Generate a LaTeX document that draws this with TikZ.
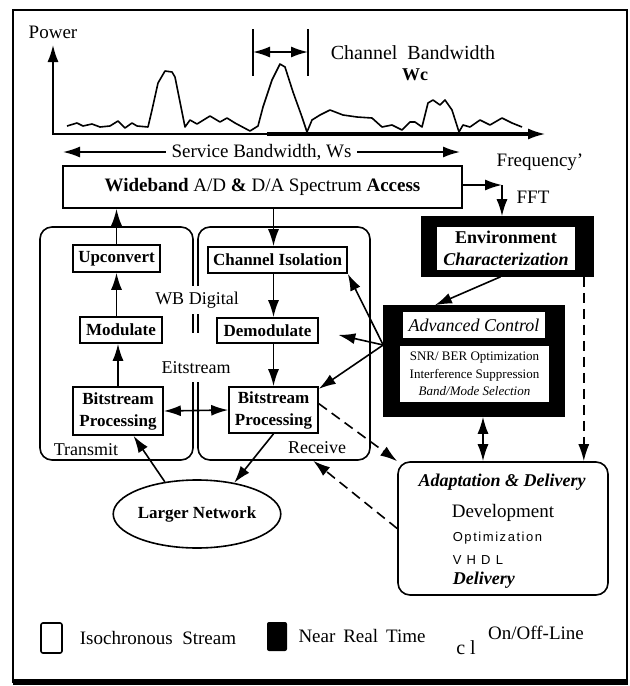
\documentclass[tikz,border=0pt]{standalone}
\usepackage{fontspec}
\setmainfont{Liberation Serif}
\newfontfamily\spacedsans[LetterSpace=12]{Liberation Sans}
\usepackage{tikz}
\usetikzlibrary{arrows.meta}
\usetikzlibrary{positioning}
\usetikzlibrary{shapes.geometric}
\newcommand{\fsz}[2]{\fontsize{#1}{#2}\selectfont}

\begin{document}
\begin{tikzpicture}[
	x=0.5pt, y=-0.5pt,
	> = {Latex[length=8.5pt,width=5.5pt]},
	line width=0.8pt,
	every node/.style = {font=\fsz{9}{11}, inner sep=0pt},
	block/.style = {draw, line width=0.8pt, font=\fsz{8.5}{11}\bfseries, align=center},
	group/.style = {draw, line width=0.8pt, rounded corners=6pt},
	darkbox/.style = {fill=black, draw=black},
	lightbox/.style = {fill=white, align=center},
	dashedarrow/.style = {->, dash pattern=on 5pt off 3pt}
	]
	\useasboundingbox (0,0) rectangle (629,686);
	\draw[line width=1.2pt] (13,10) rectangle (627,682);
	\draw[line width=3pt] (13,682) -- (628,682);

	\draw[<->] (53,45) node[above=3pt, font=\fsz{9.5}{11}] (power) {Power} |- (545,134);
	\draw[line width=2pt] (267,134) -- (528,134);
	\draw[line width=0.8pt, line join=round] plot coordinates {(67,126) (77,123) (83,126) (92,124) (100,127) (110,126) (118,121) (125,128) (132,123) (137,126) (148,127) (152,110) (158,83) (165,71) (172,72) (175,77) (185,127) (190,120) (197,124) (210,116) (220,122) (227,118) (235,123) (250,131) (258,126) (263,107) (272,80) (280,64) (285,67) (293,92) (302,117) (307,132) (312,120) (320,115) (330,110) (343,115) (357,117) (372,118) (382,127) (392,125) (402,130) (410,122) (415,122) (422,127) (428,103) (433,100) (440,105) (445,100) (452,110) (459,132) (463,125) (470,127) (480,120) (490,125) (502,118) (512,123) (522,127)};

	\coordinate (@wl) at (253,52);
	\coordinate (@wr) at (308,52);
	\draw (253,29) -- (253,76);
	\draw (308,29) -- (308,76);
	\draw[<->] (@wl) -- (@wr);
	\node[font=\fsz{10}{12}] (chbw) at (413,53) {Channel\ \ Bandwidth};
	\node[font=\fsz{9}{11}\bfseries] (wc) at (415,75) {Wc};

	\coordinate (@sl) at (63,152);
	\coordinate (@sr) at (460,152);
	\draw[<->] (@sl) -- node[fill=white, inner xsep=3pt, font=\fsz{9.5}{11}] (sbw) {Service Bandwidth, Ws} (@sr);

	\node[draw, line width=0.8pt, minimum width=199.5pt, minimum height=21pt, font=\fsz{9.5}{11}] (wide) at (262.5,187) {\textbf{Wideband} A/D \textbf{\&} D/A Spectrum \textbf{Access}};
	\node[font=\fsz{9.5}{11}] (freq) at (540,162) {Frequency'};
	\node[font=\fsz{9.5}{11}] (fft) at (533,197) {FFT};
	\coordinate (@fft) at (502,185);

	\node[darkbox, minimum width=85.5pt, minimum height=29.5pt] (env) at (507.5,246.5) {};
	\node[lightbox, minimum width=69pt, minimum height=21.5pt, font=\fsz{9}{11}\bfseries] (envtext) at (506,248.5) {Environment\\\textit{Characterization}};
	\draw[->] (wide.east |- @fft) -- (@fft);
	\draw[->] (@fft) -- (@fft |- env.north);

	\node[group, minimum width=76.5pt, minimum height=116.5pt] (trans) at (116.5,343.5) {};
	\node[group, minimum width=86pt, minimum height=116.5pt] (recv) at (284,343.5) {};
	\fill[white] (189,333) rectangle (202,382);
	\node[fill=white, inner ysep=3pt] (wbd) at (197,300) {WB Digital};
	\node[fill=white, inner ysep=2pt] (eit) at (196,368) {Eitstream};
	\node (tx) at (86,450) {Transmit};
	\node (rx) at (317,448) {Receive};

	\node[block, minimum width=43.5pt, minimum height=13.5pt] (upc) at (116.5,258.5) {Upconvert};
	\node[block, minimum width=41pt, minimum height=13pt] (mod) at (121,330) {Modulate};
	\node[block, minimum width=45pt, minimum height=24pt] (bitl) at (118,411) {Bitstream\\Processing};
	\node[block, minimum width=69.5pt, minimum height=13pt] (chan) at (277.5,260) {Channel Isolation};
	\node[block, minimum width=50.5pt, minimum height=12.5pt] (demod) at (267.5,330.5) {Demodulate};
	\node[block, minimum width=44.5pt, minimum height=23pt] (bitr) at (273.5,410) {Bitstream\\Processing};

	\node[darkbox, minimum width=90pt, minimum height=55pt] (adv) at (474,361) {};
	\node[lightbox, minimum width=71pt, minimum height=13pt, font=\fsz{9}{11}\itshape] (advtitle) at (474,325) {Advanced Control};
	\node[lightbox, minimum width=74.5pt, minimum height=28pt, font=\fsz{6.5}{8.75}] (advlist) at (474.5,374) {SNR/ BER Optimization\\Interference Suppression\\\textit{Band/Mode Selection}};

	\node[group, minimum width=105pt, minimum height=66.5pt] (adapt) at (503,528.5) {};
	\node[font=\fsz{9}{11}\bfseries\itshape] (adtitle) at (502,482) {Adaptation \& Delivery};
	\node[font=\fsz{9.5}{11}] (devel) at (503,513) {Development};
	\node[anchor=west, font=\spacedsans\fsz{6.5}{8}] (optim) at (452,538) {Optimization};
	\node[anchor=west, font=\spacedsans\fsz{6.5}{8}] (vhdl) at (452,560) {V H D L};
	\node[anchor=west, font=\fsz{9}{11}\bfseries\itshape] (deliv) at (452,580) {Delivery};

	\node[ellipse, draw, line width=0.8pt, minimum width=82pt, minimum height=34pt, font=\fsz{8.5}{10}\bfseries] (net) at (197,514) {Larger Network};

	\draw[->] (upc.north) -- (upc.north |- wide.south);
	\draw[->] (mod.north -| upc) -- (upc.south);
	\draw[->] (bitl.north) -- (bitl.north |- mod.south);
	\draw[->] (wide.south -| bitr) -- (chan.north -| bitr);
	\draw[->] (chan.south -| bitr) -- (demod.north -| bitr);
	\draw[->] (demod.south -| bitr) -- (bitr.north);
	\draw[<->] (bitl.east) -- (bitr.west);
	\draw[->] (env.257) -- (adv.125);
	\draw[->] (adv.170) -- (chan.south east);
	\draw[->, shorten >=10pt] (adv.170) -- (demod.east);
	\draw[->] (adv.170) -- (bitr.25);
	\draw[<->] ([xshift=4.5pt]adv.south) -- ([xshift=4.5pt]adv.south |- adapt.north);
	\draw[dashedarrow] ([xshift=-5pt]env.south east) -- ([xshift=-5pt]env.south east |- adapt.north);
	\draw[dashedarrow] (bitr.8) -- (adapt.north west);
	\draw[dashedarrow] (adapt.west) -- (recv.-76);
	\draw[->] (net.135) -- (bitl.-58);
	\draw[->] (bitr.south) -- (net.40);

	\node[draw, line width=0.8pt, rounded corners=1pt, minimum width=10.5pt, minimum height=15pt] (legiso) at (51.5,638) {};
	\node[font=\fsz{9.5}{11}] (isotext) at (158,638) {Isochronous\ \ Stream};
	\node[fill=black, rounded corners=1pt, minimum width=10pt, minimum height=14.5pt] (legnrt) at (277,636.5) {};
	\node[font=\fsz{9.5}{11}] (nrttext) at (362,636) {Near\, Real\, Time};
	\node[font=\fsz{10}{12}] (cl) at (466,648) {c l};
	\node[font=\fsz{9.5}{11}] (onoff) at (536,633) {On/Off-Line};

\end{tikzpicture}
\end{document}
